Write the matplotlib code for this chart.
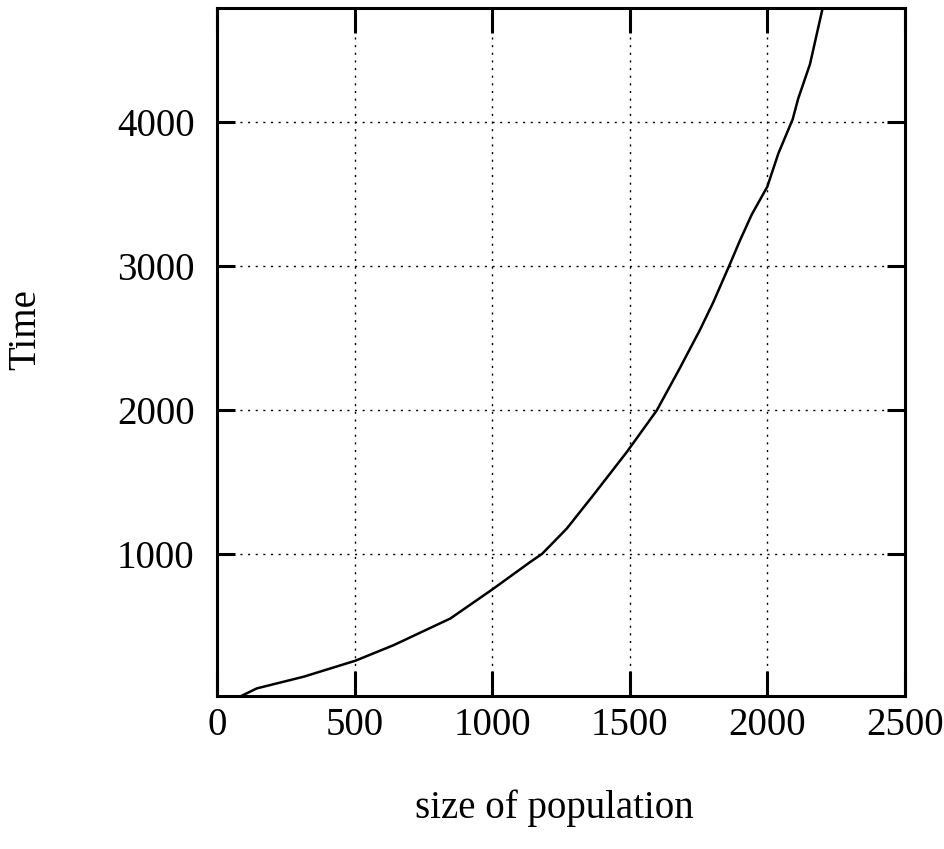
import matplotlib
matplotlib.use("Agg")
import matplotlib.pyplot as plt

# ── data ──────────────────────────────────────────────────────────────────────
population = [73, 145, 315, 503, 642, 848, 1000, 1139, 1181, 1271, 1367, 1489,
              1598, 1682, 1755, 1803, 1864, 1900, 1943, 2000, 2040, 2092, 2112,
              2155, 2197, 2215]
time_vals = [0, 67, 148, 259, 367, 552, 753, 945, 1000, 1176, 1407, 1707,
             1996, 2290, 2555, 2745, 3012, 3174, 3355, 3550, 3780, 4017, 4160,
             4400, 4756, 4900]

x_ticks = [0, 500, 1000, 1500, 2000, 2500]
y_ticks = [1000, 2000, 3000, 4000]

plt.rcParams["font.family"] = ["Liberation Serif", "DejaVu Serif"]

fig = plt.figure(figsize=(9.45, 8.49), dpi=100)
ax = fig.add_axes([0.2296, 0.1802, 0.728, 0.8104])

ax.plot(population, time_vals, color="black", lw=1.8)

ax.set_xlim(0, 2500)
ax.set_ylim(14, 4790)
ax.set_xticks(x_ticks)
ax.set_yticks(y_ticks)

ax.grid(True, color="black", linestyle=(0, (1.5, 4)), linewidth=1.0)
ax.tick_params(direction="in", width=2.2, top=True, right=True, labelsize=28)
ax.tick_params(axis="x", length=18, pad=8)
ax.tick_params(axis="y", length=13, pad=16)
for s in ax.spines.values():
    s.set_linewidth(2.2)

ax.set_xlabel("size of population", fontsize=28, va="center")
ax.xaxis.set_label_coords(0.491, -0.163)
ax.set_ylabel("Time", fontsize=28, va="center")
ax.yaxis.set_label_coords(-0.278, 0.533)

fig.savefig("out.png", dpi=100)
